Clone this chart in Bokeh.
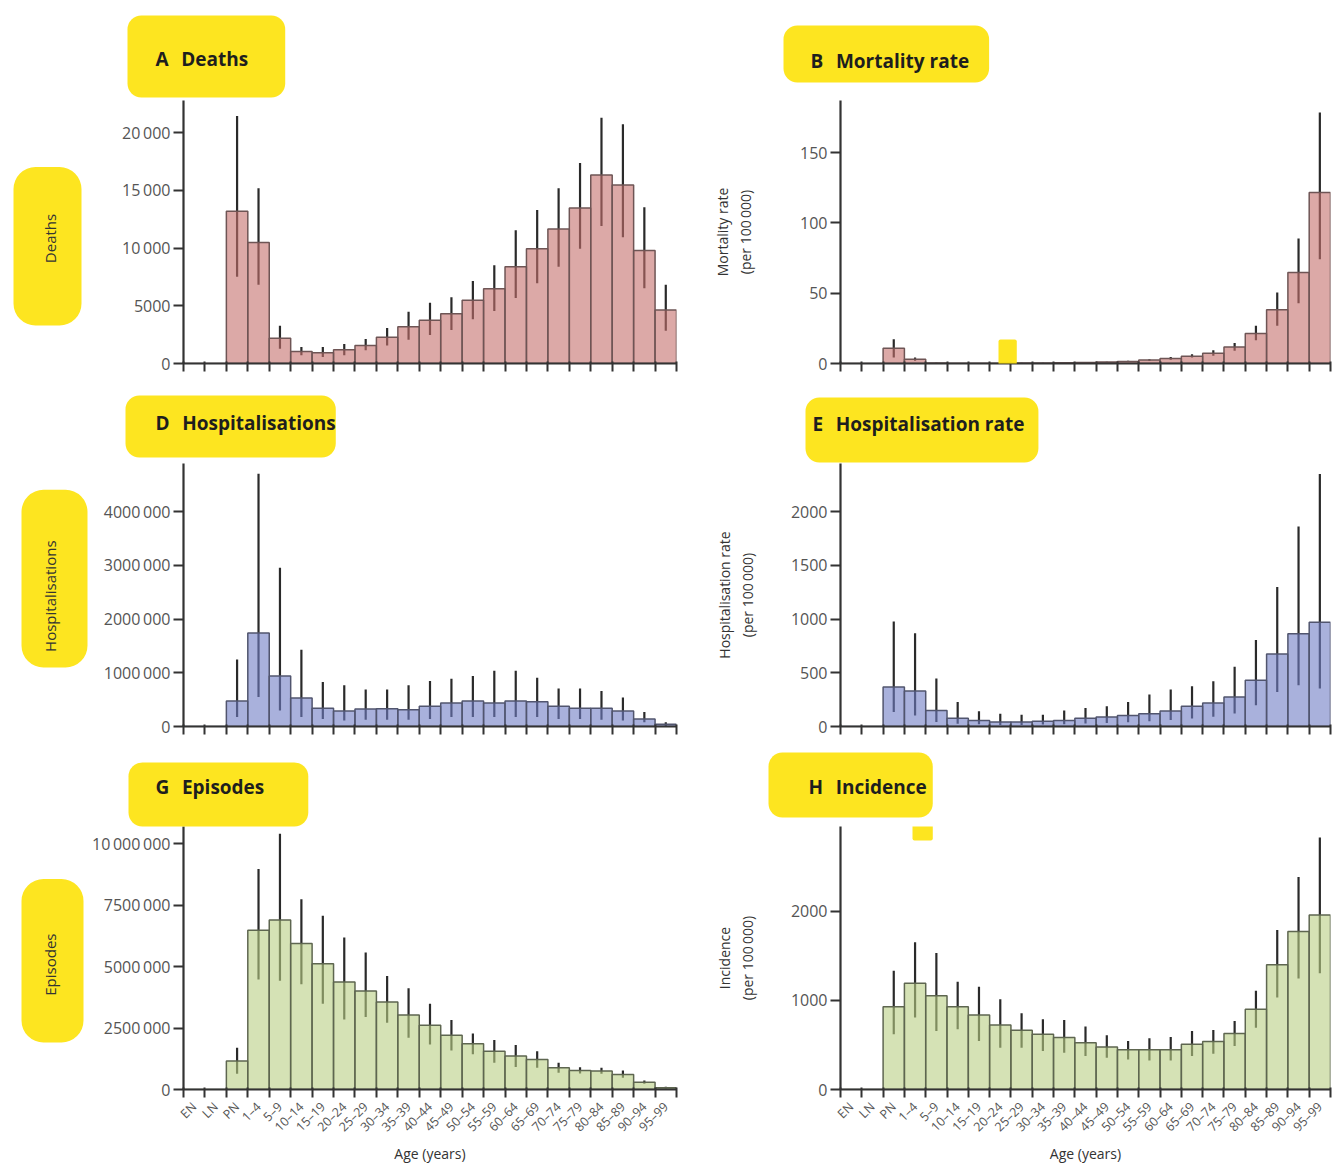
import math
from bokeh.plotting import figure
from bokeh.models import Range1d, FixedTicker, Label, ColumnDataSource, Title
from bokeh.layouts import column, row
from bokeh.embed import file_html
from bokeh.resources import INLINE

# ---------------- data ----------------
ages = ["EN", "LN", "PN", "1–4", "5–9", "10–14", "15–19", "20–24", "25–29", "30–34",
        "35–39", "40–44", "45–49", "50–54", "55–59", "60–64", "65–69", "70–74",
        "75–79", "80–84", "85–89", "90–94", "95–99"]

deaths = [0, 0, 13200, 10500, 2190, 1050, 940, 1190, 1560, 2270, 3180, 3750, 4320,
          5480, 6480, 8380, 9940, 11650, 13490, 16340, 15480, 9800, 4630]
deaths_lo = [0, 0, 7530, 6820, 1280, 710, 570, 710, 1140, 1560, 2050, 2470, 2900,
             3840, 4550, 5680, 6960, 8380, 9940, 11930, 10940, 6530, 2840]
deaths_hi = [0, 0, 21450, 15200, 3270, 1420, 1420, 1700, 2130, 3070, 4490, 5260, 5740,
             7160, 8520, 11560, 13300, 15200, 17390, 21300, 20740, 13550, 6820]

mort = [0, 0, 10.9, 3.1, 0.4, 0.15, 0.2, 0.25, 0.3, 0.4, 0.5, 0.7, 1.0, 1.5, 2.4,
        3.6, 5.2, 7.3, 11.8, 21.3, 38.2, 64.7, 121.6]
mort_lo = [0, 0, 4.3, 2.0, 0.2, 0.1, 0.1, 0.15, 0.2, 0.3, 0.35, 0.5, 0.7, 1.1, 1.8,
           2.7, 4.3, 5.5, 9.0, 16.6, 26.8, 42.9, 74.2]
mort_hi = [0, 0, 17.3, 4.2, 0.6, 0.2, 0.3, 0.35, 0.45, 0.55, 0.7, 0.95, 1.3, 2.0, 3.1,
           4.6, 6.6, 9.5, 14.5, 26.8, 50.5, 88.9, 178.4]

hosp = [0, 0, 475e3, 1740e3, 940e3, 530e3, 340e3, 290e3, 325e3, 330e3, 310e3, 375e3,
        440e3, 475e3, 440e3, 475e3, 460e3, 375e3, 340e3, 340e3, 290e3, 140e3, 40e3]
hosp_lo = [0, 0, 175e3, 550e3, 300e3, 175e3, 140e3, 110e3, 125e3, 125e3, 125e3, 140e3,
           175e3, 175e3, 175e3, 175e3, 175e3, 140e3, 140e3, 125e3, 110e3, 80e3, 10e3]
hosp_hi = [0, 0, 1250e3, 4710e3, 2960e3, 1430e3, 830e3, 770e3, 690e3, 690e3, 770e3,
           850e3, 890e3, 940e3, 1040e3, 1040e3, 910e3, 710e3, 710e3, 660e3, 540e3,
           270e3, 80e3]

hrate = [0, 0, 369, 331, 150, 78, 56, 41, 41, 50, 56, 78, 88, 103, 119, 144, 188, 219,
         275, 431, 675, 863, 972]
hrate_lo = [0, 0, 134, 103, 41, 25, 20, 15, 15, 18, 20, 28, 32, 40, 50, 60, 75, 90,
            120, 197, 322, 384, 353]
hrate_hi = [0, 0, 978, 869, 447, 228, 141, 119, 109, 109, 150, 172, 188, 228, 297, 344,
            375, 422, 556, 806, 1300, 1863, 2353]

episodes = [0, 0, 1.155e6, 6.48e6, 6.90e6, 5.94e6, 5.12e6, 4.375e6, 4.01e6, 3.56e6,
            3.03e6, 2.61e6, 2.21e6, 1.86e6, 1.56e6, 1.36e6, 1.22e6, 0.88e6, 0.77e6,
            0.75e6, 0.61e6, 0.30e6, 0.07e6]
episodes_lo = [0, 0, 0.64e6, 4.48e6, 4.42e6, 4.28e6, 3.49e6, 2.85e6, 2.95e6, 2.72e6,
               2.11e6, 1.83e6, 1.59e6, 1.43e6, 1.09e6, 0.92e6, 0.88e6, 0.68e6, 0.65e6,
               0.64e6, 0.48e6, 0.23e6, 0.04e6]
episodes_hi = [0, 0, 1.70e6, 8.97e6, 10.4e6, 7.74e6, 7.07e6, 6.18e6, 5.57e6, 4.62e6,
               4.12e6, 3.49e6, 2.83e6, 2.28e6, 2.01e6, 1.81e6, 1.56e6, 1.09e6, 0.91e6,
               0.88e6, 0.77e6, 0.37e6, 0.11e6]

incid = [0, 0, 929, 1195, 1053, 929, 838, 726, 665, 620, 583, 526, 477, 447, 447, 447,
         508, 538, 628, 902, 1402, 1774, 1962]
incid_lo = [0, 0, 620, 808, 658, 677, 545, 470, 470, 432, 414, 376, 357, 338, 327, 327,
            376, 402, 489, 695, 1034, 1248, 1305]
incid_hi = [0, 0, 1335, 1654, 1534, 1211, 1154, 1015, 857, 789, 782, 707, 609, 545,
            575, 590, 658, 669, 771, 1109, 1793, 2387, 2831]

TS = "\u2009"
ticks_A = {0: "0", 5000: "5000", 10000: "10" + TS + "000", 15000: "15" + TS + "000",
           20000: "20" + TS + "000"}
ticks_B = {0: "0", 50: "50", 100: "100", 150: "150"}
ticks_D = {0: "0", 1e6: "1000" + TS + "000", 2e6: "2000" + TS + "000",
           3e6: "3000" + TS + "000", 4e6: "4000" + TS + "000"}
ticks_E = {0: "0", 500: "500", 1000: "1000", 1500: "1500", 2000: "2000"}
ticks_G = {0: "0", 2.5e6: "2500" + TS + "000", 5e6: "5000" + TS + "000",
           7.5e6: "7500" + TS + "000", 10e6: "10" + TS + "000" + TS + "000"}
ticks_H = {0: "0", 1000: "1000", 2000: "2000"}

# ---------------- styling / layout ----------------
FONT = "Open Sans"
YELLOW = "#fde414"
RED = ("#c5706c", "#6e5555")
BLUE = ("#707dc5", "#51556e")
GREEN = ("#b9cf84", "#5e6650")

LEFT_W, RIGHT_W = 690, 642
FRAME_LEFT = {0: 183, 1: 840}
FRAME_BOTTOM = {0: 363, 1: 726, 2: 1089}
ROW_BORDERS = {0: (100, 15), 1: (85, 15), 2: (85, 77)}
FRAME_H = 263
NB = "\u00a0"
GAP = "\u2002\u2009"

xs = [i + 0.5 for i in range(len(ages))]


def center_box(p, colk, rowk, x0, y0, x1, y1, radius=2):
    # small highlighter marks that fall inside the plotting frame
    lab = Label(x=x0 - FRAME_LEFT[colk], y=FRAME_BOTTOM[rowk] - y1,
                x_units="screen", y_units="screen", text=" ",
                text_font_size="1px", text_align="left", text_baseline="bottom",
                background_fill_color=YELLOW, background_fill_alpha=0.95,
                padding=dict(left=0, right=int(x1 - x0), top=int(y1 - y0), bottom=0),
                border_radius=radius)
    p.add_layout(lab)


def make_panel(colk, rowk, vals, lo, hi, colors, ytop, ticks, ylabel=None, ylabel_standoff=0):
    top_b, bot_b = ROW_BORDERS[rowk]
    if colk == 0:
        W, lb, rb = LEFT_W, FRAME_LEFT[0], 14
    else:
        W, lb, rb = RIGHT_W, FRAME_LEFT[1] - LEFT_W, 2
    H = top_b + FRAME_H + bot_b
    p = figure(width=W, height=H, x_range=Range1d(0, len(ages)), y_range=Range1d(0, ytop),
               output_backend="svg", toolbar_location=None,
               min_border_left=lb, min_border_right=rb,
               min_border_top=top_b, min_border_bottom=bot_b)
    p.outline_line_color = None
    p.xgrid.visible = False
    p.ygrid.visible = False
    p.background_fill_color = "white"

    src = ColumnDataSource(dict(x=xs, v=vals, lo=lo, hi=hi))
    p.segment(x0="x", y0="lo", x1="x", y1="hi", source=src, line_color="#2a2a2a",
              line_width=2.2)
    p.vbar(x="x", top="v", width=1.0, bottom=0, source=src, fill_color=colors[0],
           fill_alpha=0.6, line_color=colors[1], line_width=1.5)

    bottom = rowk == 2
    xa = p.xaxis[0]
    xa.ticker = FixedTicker(ticks=xs if bottom else [], minor_ticks=list(range(len(ages) + 1)))
    xa.axis_line_width = 2.2
    xa.axis_line_color = "#333333"
    xa.major_tick_in = 0
    xa.major_tick_out = 0
    xa.minor_tick_in = 2
    xa.minor_tick_out = 8
    xa.minor_tick_line_width = 2
    xa.minor_tick_line_color = "#333333"
    if bottom:
        xa.major_label_overrides = {x: a for x, a in zip(xs, ages)}
        xa.major_label_orientation = math.pi / 4
        xa.major_label_text_font = FONT
        xa.major_label_text_font_size = "12.5px"
        xa.major_label_text_color = "#555555"
        xa.major_label_standoff = 7
        xa.axis_label = "Age (years)"
        xa.axis_label_text_font = FONT
        xa.axis_label_text_font_size = "14px"
        xa.axis_label_text_font_style = "normal"
        xa.axis_label_text_color = "#333333"
        xa.axis_label_standoff = 0
    else:
        xa.major_label_text_font_size = "0px"
        xa.major_label_standoff = 0

    ya = p.yaxis[0]
    ya.ticker = FixedTicker(ticks=list(ticks.keys()), minor_ticks=[])
    ya.major_label_overrides = {k: v for k, v in ticks.items()}
    ya.axis_line_width = 2.2
    ya.axis_line_color = "#333333"
    ya.major_tick_in = 0
    ya.major_tick_out = 10
    ya.major_tick_line_width = 2
    ya.major_tick_line_color = "#333333"
    ya.minor_tick_out = 0
    ya.minor_tick_in = 0
    ya.major_label_text_font = FONT
    ya.major_label_text_font_size = "16px"
    ya.major_label_text_color = "#555555"
    ya.major_label_standoff = 3
    if ylabel:
        ya.axis_label = ylabel
        ya.axis_label_text_font = FONT
        ya.axis_label_text_font_size = "14px"
        ya.axis_label_text_font_style = "normal"
        ya.axis_label_text_color = "#333333"
        ya.axis_label_standoff = ylabel_standoff
    return p


PER = "(per 100" + TS + "000)"
pA = make_panel(0, 0, deaths, deaths_lo, deaths_hi, RED, 22800, ticks_A)
pB = make_panel(1, 0, mort, mort_lo, mort_hi, RED, 187, ticks_B,
                "Mortality rate\n" + PER, 42)
pD = make_panel(0, 1, hosp, hosp_lo, hosp_hi, BLUE, 4.9e6, ticks_D)
pE = make_panel(1, 1, hrate, hrate_lo, hrate_hi, BLUE, 2450, ticks_E,
                "Hospitalisation rate\n" + PER, 31)
pG = make_panel(0, 2, episodes, episodes_lo, episodes_hi, GREEN, 10.7e6, ticks_G)
pH = make_panel(1, 2, incid, incid_lo, incid_hi, GREEN, 2955, ticks_H,
                "Incidence\n" + PER, 31)


# ---------------- highlighted panel titles (above) ----------------
def panel_title(p, letter, word, offset, standoff, pad):
    t = Title(text=letter + GAP + word, align="left", offset=offset, standoff=standoff,
              text_font=FONT, text_font_style="bold", text_font_size="19px",
              text_color="#1e1e1e", background_fill_color=YELLOW,
              background_fill_alpha=0.95, border_radius=14,
              padding=dict(left=pad[0], right=pad[1], top=pad[2], bottom=pad[3]))
    p.add_layout(t, "above")


panel_title(pA, "A", "Deaths", -56, 6, (28, 37, 30, 26))
panel_title(pB, "B", "Mortality rate", -57, 36, (27, 20, 22, 9))
panel_title(pD, "D", "Hospitalisations", -58, 12, (30, 0, 14, 22))
panel_title(pE, "E", "Hospitalisation rate", -35, 2, (7, 14, 13, 26))
panel_title(pG, "G", "Episodes", -55, 0, (27, 44, 11, 27))
panel_title(pH, "H", "Incidence", -72, 18, (40, 6, 21, 18))


# ---------------- highlighted y titles (left column) ----------------
def side_title(p, word, n_below, n_above, offset, standoff, pad_l, pad_r):
    t = Title(text=NB * n_below + word + NB * n_above, align="left", offset=offset,
              standoff=standoff, text_font=FONT, text_font_style="normal",
              text_font_size="15px", text_color="#333333",
              background_fill_color=YELLOW, background_fill_alpha=0.95,
              border_radius=22,
              padding=dict(left=0, right=0, top=pad_l, bottom=pad_r))
    p.add_layout(t, "left")


side_title(pA, "Deaths", 16, 12, 38, 76, 26, 22)
side_title(pD, "Hospitalisations", 4, 13, 59, 26, 18, 28)
side_title(pG, "Episodes", 12, 14, 47, 10, 18, 24)

# highlighter marks inside the frames
center_box(pB, 1, 0, 998, 340, 1016, 392)
center_box(pH, 1, 2, 912, 817, 932, 840)

layout = column(row(pA, pB), row(pD, pE), row(pG, pH))

open("out.html", "w").write(file_html(layout, INLINE))
